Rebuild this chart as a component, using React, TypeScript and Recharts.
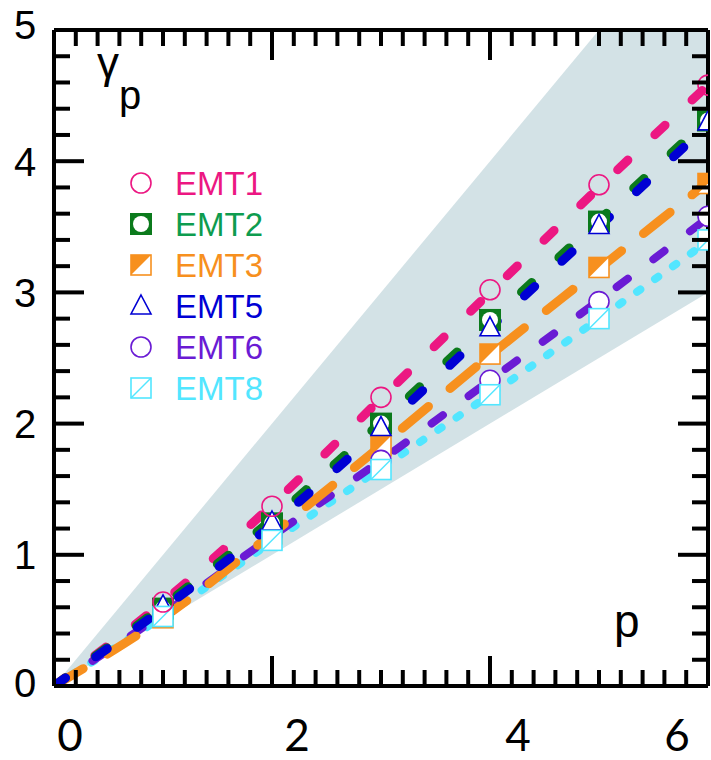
import React from 'react';
import { ComposedChart, Area, Line, Scatter, XAxis, YAxis } from 'recharts';

const W = 711;
const H = 760;

// p values for the fitted curves and for the measured points
const P_FIT = [0, 1, 2, 3, 4, 5, 6];
const P_MARK = [1, 2, 3, 4, 5, 6];

const EMT1_FIT = [0, 0.64, 1.38, 2.19, 3.0, 3.8, 4.58];
const EMT2_FIT = [0, 0.61, 1.27, 2.01, 2.78, 3.55, 4.32];
const EMT3_FIT = [0, 0.52, 1.16, 1.83, 2.52, 3.18, 3.84];
const EMT5_FIT = [0, 0.59, 1.23, 1.96, 2.73, 3.5, 4.28];
const EMT6_FIT = [0, 0.55, 1.14, 1.72, 2.33, 2.94, 3.57];
const EMT8_FIT = [0, 0.53, 1.1, 1.66, 2.22, 2.8, 3.39];

const EMT1_PTS = [0.64, 1.37, 2.2, 3.02, 3.82, 4.58];
const EMT2_PTS = [0.59, 1.24, 2.0, 2.79, 3.54, 4.31];
const EMT3_PTS = [0.52, 1.16, 1.83, 2.53, 3.19, 3.83];
const EMT5_PTS = [0.61, 1.25, 1.97, 2.73, 3.51, 4.3];
const EMT6_PTS = [0.56, 1.15, 1.72, 2.33, 2.93, 3.58];
const EMT8_PTS = [0.53, 1.11, 1.65, 2.22, 2.8, 3.4];

// shaded wedge between gamma = p/2 and gamma = p
const WEDGE_P = [0, 5, 6];
const WEDGE_LO = [0, 2.5, 3];
const WEDGE_HI = [0, 5, 5];

const X_LABELS = [0, 2, 4, 6];
const Y_LABELS = [0, 1, 2, 3, 4, 5];
const X_MINOR = 0.2;
const Y_MINOR = 0.2;

const PINK = '#ec1782';
const GREEN = '#0b7a1c';
const GREEN_TXT = '#0e9c4f';
const ORANGE = '#f7901e';
const BLUE = '#0000d4';
const PURPLE = '#6a1bd4';
const CYAN = '#52e6ff';
const WEDGE = '#d3e2e6';

const X_TICKS = Array.from({ length: Math.round(6 / X_MINOR) + 1 }, (_, i) => +(i * X_MINOR).toFixed(2));
const Y_TICKS = Array.from({ length: Math.round(5 / Y_MINOR) + 1 }, (_, i) => +(i * Y_MINOR).toFixed(2));

const near = (a: number, b: number) => Math.abs(a - b) < 1e-6;
const isXMajor = (v: number) => near(v / 2, Math.round(v / 2));
const isYMajor = (v: number) => near(v, Math.round(v));

// label nudges along the axes
const X_NUDGE: Record<number, number> = { 0: 16, 2: 25, 4: 28, 6: -31 };
const Y_NUDGE: Record<number, number> = { 0: -3, 5: -5 };

const toPts = (xs: number[], ys: number[]) => xs.map((p, i) => ({ p, g: ys[i] }));
const wedgeData = WEDGE_P.map((p, i) => ({ p, band: [WEDGE_LO[i], WEDGE_HI[i]] }));

// ---- markers ----
type MP = { cx: number; cy: number };

const OpenCircle = ({ cx, cy, color, fill }: MP & { color: string; fill: string }) => (
    <circle cx={cx} cy={cy} r={10} fill={fill} stroke={color} strokeWidth={1.6} />
);

const GreenSquare = ({ cx, cy }: MP) => (
    <g>
        <rect x={cx - 11} y={cy - 11} width={22} height={22} fill={GREEN} />
        <circle cx={cx} cy={cy} r={8} fill="#fff" />
    </g>
);

const HalfSquare = ({ cx, cy }: MP) => (
    <g>
        <rect x={cx - 10} y={cy - 10} width={20} height={20} fill="#fff" stroke={ORANGE} strokeWidth={1.6} />
        <polygon points={`${cx - 10},${cy - 10} ${cx + 10},${cy - 10} ${cx - 10},${cy + 10}`} fill={ORANGE} />
    </g>
);

const Triangle = ({ cx, cy }: MP) => (
    <polygon
        points={`${cx},${cy - 11} ${cx + 10},${cy + 8} ${cx - 10},${cy + 8}`}
        fill="#fff"
        stroke={BLUE}
        strokeWidth={1.6}
    />
);

const SlashSquare = ({ cx, cy }: MP) => (
    <g>
        <rect x={cx - 10} y={cy - 10} width={20} height={20} fill="#fff" stroke={CYAN} strokeWidth={1.6} />
        <line x1={cx - 10} y1={cy + 10} x2={cx + 10} y2={cy - 10} stroke={CYAN} strokeWidth={1.4} />
    </g>
);

const SERIES = [
    { name: 'EMT1', color: PINK, text: PINK, fit: EMT1_FIT, pts: EMT1_PTS, dash: '14 37', width: 9,
      marker: (p: MP) => <OpenCircle {...p} color={PINK} fill="none" /> },
    { name: 'EMT2', color: GREEN, text: GREEN_TXT, fit: EMT2_FIT, pts: EMT2_PTS, dash: '14 37', width: 9,
      marker: (p: MP) => <GreenSquare {...p} /> },
    { name: 'EMT3', color: ORANGE, text: ORANGE, fit: EMT3_FIT, pts: EMT3_PTS, dash: '34 28', width: 9,
      marker: (p: MP) => <HalfSquare {...p} /> },
    { name: 'EMT5', color: BLUE, text: BLUE, fit: EMT5_FIT, pts: EMT5_PTS, dash: '14 37', width: 9,
      marker: (p: MP) => <Triangle {...p} /> },
    { name: 'EMT6', color: PURPLE, text: PURPLE, fit: EMT6_FIT, pts: EMT6_PTS, dash: '14 32', width: 8,
      marker: (p: MP) => <OpenCircle {...p} color={PURPLE} fill="#fff" /> },
    { name: 'EMT8', color: CYAN, text: CYAN, fit: EMT8_FIT, pts: EMT8_PTS, dash: '4 18', width: 8,
      marker: (p: MP) => <SlashSquare {...p} /> },
];

// stacking order of the point symbols and of the fitted curves
const MARK_ORDER = ['EMT3', 'EMT6', 'EMT2', 'EMT5', 'EMT8', 'EMT1'];
const LINE_ORDER = ['EMT8', 'EMT6', 'EMT3', 'EMT1', 'EMT2', 'EMT5'];
const byName = (n: string) => SERIES.find((s) => s.name === n)!;

// ---- axis ticks (drawn inward) ----
// eslint-disable-next-line @typescript-eslint/no-explicit-any
const BottomTick = ({ x, y, payload }: any) => {
    const v = payload.value;
    const label = X_LABELS.find((l) => near(l, v));
    return (
        <g>
            <line x1={x} x2={x} y1={y} y2={y - (isXMajor(v) ? 30 : 16)} stroke="#000" strokeWidth={4} />
            {label !== undefined && (
                <text x={x + (X_NUDGE[label] ?? 0)} y={y + 65} textAnchor="middle"
                    style={{ fontFamily: 'Lato, "Open Sans", sans-serif', fontSize: 44, fill: '#000' }}>
                    {label}
                </text>
            )}
        </g>
    );
};

// eslint-disable-next-line @typescript-eslint/no-explicit-any
const TopTick = ({ x, y, payload }: any) => (
    <line x1={x} x2={x} y1={y} y2={y + (isXMajor(payload.value) ? 30 : 16)} stroke="#000" strokeWidth={4} />
);

// eslint-disable-next-line @typescript-eslint/no-explicit-any
const LeftTick = ({ x, y, payload }: any) => {
    const v = payload.value;
    const label = Y_LABELS.find((l) => near(l, v));
    return (
        <g>
            <line x1={x} x2={x + (isYMajor(v) ? 30 : 16)} y1={y} y2={y} stroke="#000" strokeWidth={4} />
            {label !== undefined && (
                <text x={25} y={y + (Y_NUDGE[label] ?? 0)} dy="0.36em" textAnchor="middle"
                    style={{ fontFamily: '"Liberation Sans", Arial, sans-serif', fontSize: 40, fill: '#000' }}>
                    {label}
                </text>
            )}
        </g>
    );
};

// eslint-disable-next-line @typescript-eslint/no-explicit-any
const RightTick = ({ x, y, payload }: any) => (
    <line x1={x} x2={x - (isYMajor(payload.value) ? 30 : 16)} y1={y} y2={y} stroke="#000" strokeWidth={4} />
);

const AXIS_LINE = { stroke: '#000', strokeWidth: 4 };
const SANS = '"Liberation Sans", Arial, sans-serif';

export default function App() {
    return (
        <div style={{ position: 'absolute', left: 0, top: 0, width: W, height: H, background: '#fff' }}>
            <ComposedChart width={W} height={H} margin={{ top: 0, right: 0, bottom: 0, left: 0 }}>
                <XAxis xAxisId="b" dataKey="p" type="number" orientation="bottom" domain={[0, 6]} allowDataOverflow
                    ticks={X_TICKS} interval={0} height={74} tickSize={0} tickMargin={0}
                    axisLine={AXIS_LINE} tickLine={false} tick={BottomTick} />
                <XAxis xAxisId="t" dataKey="p" type="number" orientation="top" domain={[0, 6]} allowDataOverflow
                    ticks={X_TICKS} interval={0} height={30} tickSize={0} tickMargin={0}
                    axisLine={AXIS_LINE} tickLine={false} tick={TopTick} />
                <YAxis yAxisId="l" type="number" orientation="left" domain={[0, 5]} allowDataOverflow
                    ticks={Y_TICKS} interval={0} width={54} tickSize={0} tickMargin={0}
                    axisLine={AXIS_LINE} tickLine={false} tick={LeftTick} />
                <YAxis yAxisId="r" type="number" orientation="right" domain={[0, 5]} allowDataOverflow
                    ticks={Y_TICKS} interval={0} width={3} tickSize={0} tickMargin={0}
                    axisLine={AXIS_LINE} tickLine={false} tick={RightTick} />

                <Area xAxisId="b" yAxisId="l" data={wedgeData} dataKey="band" type="linear"
                    fill={WEDGE} fillOpacity={1} stroke="none" isAnimationActive={false} />

                {LINE_ORDER.map((n) => {
                    const s = byName(n);
                    return (
                        <Line key={`fit-${n}`} xAxisId="b" yAxisId="l" data={toPts(P_FIT, s.fit)} dataKey="g"
                            type="monotone" stroke={s.color} strokeWidth={s.width} strokeDasharray={s.dash}
                            strokeLinecap="round" dot={false} activeDot={false} isAnimationActive={false} />
                    );
                })}

                {MARK_ORDER.map((n) => {
                    const s = byName(n);
                    return (
                        <Scatter key={`pts-${n}`} xAxisId="b" yAxisId="l" data={toPts(P_MARK, s.pts)} dataKey="g"
                            // eslint-disable-next-line @typescript-eslint/no-explicit-any
                            shape={(p: any) => s.marker({ cx: p.cx, cy: p.cy })} isAnimationActive={false} />
                    );
                })}
            </ComposedChart>

            <svg width={W} height={H} style={{ position: 'absolute', left: 0, top: 0, pointerEvents: 'none' }}>
                <text x={97} y={78} style={{ fontFamily: SANS, fontSize: 44, fill: '#000' }}>γ</text>
                <text x={119} y={109} style={{ fontFamily: SANS, fontSize: 40, fill: '#000' }}>p</text>
                <text x={614} y={637} style={{ fontFamily: SANS, fontSize: 46, fill: '#000' }}>p</text>

                {SERIES.map((s, i) => {
                    const cy = 183 + i * 41;
                    return (
                        <g key={s.name}>
                            {s.marker({ cx: 141, cy })}
                            <text x={175} y={cy + 12} style={{ fontFamily: SANS, fontSize: 33, fill: s.text }}>
                                {s.name}
                            </text>
                        </g>
                    );
                })}
            </svg>
        </div>
    );
}
